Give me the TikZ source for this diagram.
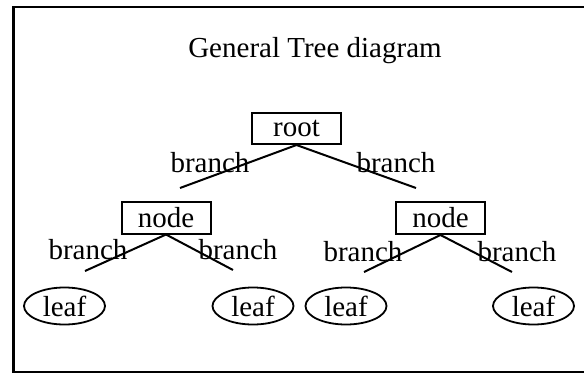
\documentclass[tikz,border=0pt]{standalone}
\usepackage{fontspec}
\setmainfont{Liberation Serif}
\usetikzlibrary{shapes.geometric}
\begin{document}
\begin{tikzpicture}[x=1pt,y=-1pt,
  every node/.style={font=\fontsize{29}{34}\selectfont},
  boxnode/.style={draw,line width=2pt,inner sep=0pt,minimum width=89pt,minimum height=31pt},
  leafnode/.style={draw,ellipse,line width=1.8pt,inner sep=0pt,minimum width=81pt,minimum height=37pt},
  branchlabel/.style={anchor=base,inner sep=0pt},
  edge/.style={line width=2pt}]
  \useasboundingbox (0,0) rectangle (584,375);
  % outer frame (its right side lies beyond the page)
  \begin{scope}
    \clip (0,0) rectangle (584,375);
    \draw[line width=2.5pt] (13.5,7) rectangle (600,372);
  \end{scope}
  % title
  \node[anchor=base,inner sep=0pt] (title) at (315,57) {General Tree diagram};
  % inner nodes
  \node[boxnode] (root) at (296.5,128.5) {root};
  \node[boxnode,minimum height=32pt] (nl) at (166,217.5) {node};
  \node[boxnode,minimum height=32pt] (nr) at (440.5,218) {node};
  % leaves
  \node[leafnode] (l1) at (64.5,306) {leaf};
  \node[leafnode] (l2) at (253,306) {leaf};
  \node[leafnode] (l3) at (346,306) {leaf};
  \node[leafnode] (l4) at (533.5,306) {leaf};
  % free ends of the branches
  \coordinate (rA) at (180,188);
  \coordinate (rB) at (416,188);
  \coordinate (lA) at (85,271);
  \coordinate (lB) at (233,270);
  \coordinate (rC) at (364,272);
  \coordinate (rD) at (512,272);
  % branches
  \draw[edge] (root.south) -- (rA);
  \draw[edge] (root.south) -- (rB);
  \draw[edge] (nl.south) -- (lA);
  \draw[edge] (nl.south) -- (lB);
  \draw[edge] (nr.south) -- (rC);
  \draw[edge] (nr.south) -- (rD);
  % branch labels
  \node[branchlabel] (b1) at (210,172) {branch};
  \node[branchlabel] (b2) at (396,172) {branch};
  \node[branchlabel] (b3) at (88,259) {branch};
  \node[branchlabel] (b4) at (238,259) {branch};
  \node[branchlabel] (b5) at (363,261) {branch};
  \node[branchlabel] (b6) at (517,261) {branch};
\end{tikzpicture}
\end{document}
